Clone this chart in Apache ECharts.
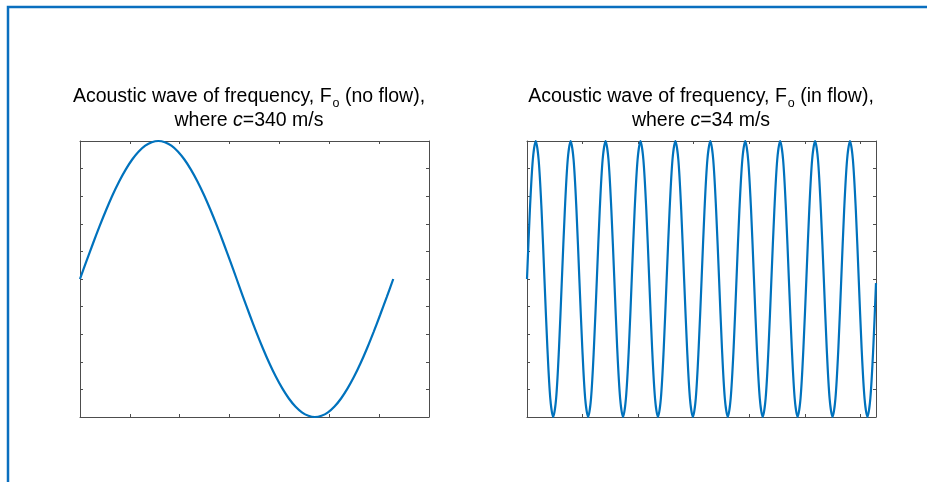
<!DOCTYPE html>
<html>
<head>
<meta charset="utf-8">
<script src="https://cdn.jsdelivr.net/npm/echarts@6/dist/echarts.min.js"></script>
<style>
html,body{margin:0;padding:0;background:#fff;}
#c{width:927px;height:482px;}
</style>
</head>
<body>
<div id="c"></div>
<script>
// Left panel: one period, x axis 0..7
var leftX = [0, 0.131, 0.262, 0.393, 0.524, 0.654, 0.785, 0.916, 1.047, 1.178, 1.309, 1.440,
  1.571, 1.702, 1.833, 1.963, 2.094, 2.225, 2.356, 2.487, 2.618, 2.749, 2.880, 3.011,
  3.142, 3.272, 3.403, 3.534, 3.665, 3.796, 3.927, 4.058, 4.189, 4.320, 4.451, 4.581,
  4.712, 4.843, 4.974, 5.105, 5.236, 5.367, 5.498, 5.629, 5.760, 5.890, 6.021, 6.152,
  6.283];
var leftY = [0, 0.131, 0.259, 0.383, 0.500, 0.609, 0.707, 0.793, 0.866, 0.924, 0.966, 0.991,
  1, 0.991, 0.966, 0.924, 0.866, 0.793, 0.707, 0.609, 0.500, 0.383, 0.259, 0.131,
  0, -0.131, -0.259, -0.383, -0.500, -0.609, -0.707, -0.793, -0.866, -0.924, -0.966, -0.991,
  -1, -0.991, -0.966, -0.924, -0.866, -0.793, -0.707, -0.609, -0.500, -0.383, -0.259, -0.131,
  0];

// Right panel: ten periods, x axis 0..2pi
var rightX = [0, 0.052, 0.105, 0.157, 0.209, 0.262, 0.314, 0.367, 0.419, 0.471, 0.524, 0.576,
  0.628, 0.681, 0.733, 0.785, 0.838, 0.890, 0.942, 0.995, 1.047, 1.100, 1.152, 1.204,
  1.257, 1.309, 1.361, 1.414, 1.466, 1.518, 1.571, 1.623, 1.676, 1.728, 1.780, 1.833,
  1.885, 1.937, 1.990, 2.042, 2.094, 2.147, 2.199, 2.251, 2.304, 2.356, 2.409, 2.461,
  2.513, 2.566, 2.618, 2.670, 2.723, 2.775, 2.827, 2.880, 2.932, 2.985, 3.037, 3.089,
  3.142, 3.194, 3.246, 3.299, 3.351, 3.403, 3.456, 3.508, 3.560, 3.613, 3.665, 3.718,
  3.770, 3.822, 3.875, 3.927, 3.979, 4.032, 4.084, 4.136, 4.189, 4.241, 4.294, 4.346,
  4.398, 4.451, 4.503, 4.555, 4.608, 4.660, 4.712, 4.765, 4.817, 4.869, 4.922, 4.974,
  5.027, 5.079, 5.131, 5.184, 5.236, 5.288, 5.341, 5.393, 5.445, 5.498, 5.550, 5.603,
  5.655, 5.707, 5.760, 5.812, 5.864, 5.917, 5.969, 6.021, 6.074, 6.126, 6.178, 6.231,
  6.280];
var rightY = [0, 0.5, 0.866, 1, 0.866, 0.5, 0, -0.5, -0.866, -1, -0.866, -0.5,
  0, 0.5, 0.866, 1, 0.866, 0.5, 0, -0.5, -0.866, -1, -0.866, -0.5,
  0, 0.5, 0.866, 1, 0.866, 0.5, 0, -0.5, -0.866, -1, -0.866, -0.5,
  0, 0.5, 0.866, 1, 0.866, 0.5, 0, -0.5, -0.866, -1, -0.866, -0.5,
  0, 0.5, 0.866, 1, 0.866, 0.5, 0, -0.5, -0.866, -1, -0.866, -0.5,
  0, 0.5, 0.866, 1, 0.866, 0.5, 0, -0.5, -0.866, -1, -0.866, -0.5,
  0, 0.5, 0.866, 1, 0.866, 0.5, 0, -0.5, -0.866, -1, -0.866, -0.5,
  0, 0.5, 0.866, 1, 0.866, 0.5, 0, -0.5, -0.866, -1, -0.866, -0.5,
  0, 0.5, 0.866, 1, 0.866, 0.5, 0, -0.5, -0.866, -1, -0.866, -0.5,
  0, 0.5, 0.866, 1, 0.866, 0.5, 0, -0.5, -0.866, -1, -0.866, -0.5,
  -0.03];

var leftTitle1 = ['Acoustic wave of frequency, F', 'o', ' (no flow),'];
var leftTitle2 = ['where ', 'c', '=340 m/s'];
var rightTitle1 = ['Acoustic wave of frequency, F', 'o', ' (in flow),'];
var rightTitle2 = ['where ', 'c', '=34 m/s'];

var axisColor = '#4d4d4d';
var lineColor = '#0072BD';
var font = '"Liberation Sans", Arial, sans-serif';

function pairs(xs, ys) {
  var out = [];
  for (var i = 0; i < xs.length; i++) out.push([xs[i], ys[i]]);
  return out;
}

function xAxes(gi, max, pos) {
  return {
    type: 'value', gridIndex: gi, position: pos, min: 0, max: max, interval: 1,
    axisLine: {show: true, onZero: false, lineStyle: {color: axisColor, width: 1}},
    axisTick: {show: true, inside: true, length: 3, lineStyle: {color: axisColor}},
    axisLabel: {show: false}, splitLine: {show: false}
  };
}
function yAxes(gi, pos) {
  return {
    type: 'value', gridIndex: gi, position: pos, min: -1, max: 1, interval: 0.2,
    axisLine: {show: true, onZero: false, lineStyle: {color: axisColor, width: 1}},
    axisTick: {show: true, inside: true, length: 3, lineStyle: {color: axisColor}},
    axisLabel: {show: false}, splitLine: {show: false}
  };
}

var rich = {
  a: {fontSize: 19.5, fontFamily: font, color: '#000', lineHeight: 24},
  s: {fontSize: 12.5, fontFamily: font, color: '#000', lineHeight: 10, padding: [14, 0, 0, 1]},
  i: {fontSize: 19.5, fontFamily: font, color: '#000', lineHeight: 24, fontStyle: 'italic'}
};
function titleText(l1, l2) {
  return '{a|' + l1[0] + '}{s|' + l1[1] + '}{a|' + l1[2] + '}\n{a|' + l2[0] + '}{i|' + l2[1] + '}{a|' + l2[2] + '}';
}

var chart = echarts.init(document.getElementById('c'), null, {renderer: 'canvas'});
chart.setOption({
  animation: false,
  backgroundColor: '#ffffff',
  grid: [
    {left: 80, top: 141, width: 349, height: 276},
    {left: 527, top: 141, width: 349, height: 276}
  ],
  xAxis: [xAxes(0, 7, 'bottom'), xAxes(0, 7, 'top'), xAxes(1, 6.28, 'bottom'), xAxes(1, 6.28, 'top')],
  yAxis: [yAxes(0, 'left'), yAxes(0, 'right'), yAxes(1, 'left'), yAxes(1, 'right')],
  series: [
    {type: 'line', xAxisIndex: 0, yAxisIndex: 0, data: pairs(leftX, leftY), showSymbol: false, smooth: 0.3,
     lineStyle: {color: lineColor, width: 2.2}, clip: false},
    {type: 'line', xAxisIndex: 2, yAxisIndex: 2, data: pairs(rightX, rightY), showSymbol: false, smooth: 0.3,
     lineStyle: {color: lineColor, width: 2.2}, clip: false}
  ],
  graphic: [
    {type: 'rect', silent: true, shape: {x: 8, y: 7, width: 1000, height: 600},
     style: {fill: null, stroke: '#0a6fbf', lineWidth: 2.5}},
    {type: 'text', x: 249, y: 85, style: {text: titleText(leftTitle1, leftTitle2), rich: rich, align: 'center', verticalAlign: 'top', textAlign: 'center', textVerticalAlign: 'top'}},
    {type: 'text', x: 701, y: 85, style: {text: titleText(rightTitle1, rightTitle2), rich: rich, align: 'center', verticalAlign: 'top', textAlign: 'center', textVerticalAlign: 'top'}}
  ]
});
</script>
</body>
</html>
